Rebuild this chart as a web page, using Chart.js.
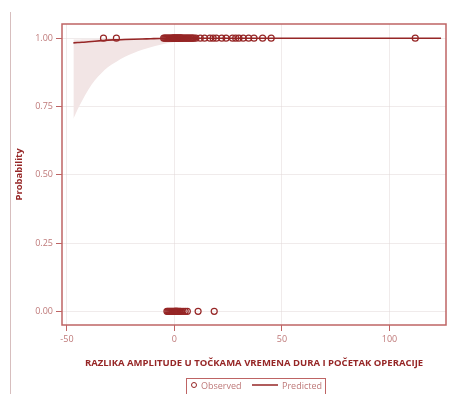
<!DOCTYPE html>
<html>
<head>
<meta charset="utf-8">
<script src="https://cdn.jsdelivr.net/npm/chart.js@4.4.1/dist/chart.umd.min.js"></script>
<style>
  html, body { margin: 0; padding: 0; background: #fff; }
  #wrap { width: 454px; height: 394px; position: relative; }
</style>
</head>
<body>
<div id="wrap"><canvas id="myChart" width="454" height="394"></canvas></div>
<script>
// podaci
const xTicks = [-50, 0, 50, 100];
const yTicks = [0, 0.25, 0.5, 0.75, 1];

const obsJedan = [-33, -27,
  -5, -4.5, -4, -3.5, -3, -2.5, -2, -1.5, -1, -0.75, -0.5, -0.25, 0, 0.25, 0.5, 0.75, 1, 1.25, 1.5, 1.75, 2, 2.25, 2.5, 2.75,
  3, 3.25, 3.5, 4, 4.5, 5, 5.5, 6, 6.5, 7, 7.5, 8, 8.5, 9, 10,
  12, 14, 16.5, 18, 19.5, 22, 24, 27, 28.5, 30, 32, 34.5, 37, 41, 45, 112];
const obsNula = [-3.5, -3, -2.5, -2, -1.5, -1, -0.5, 0, 0.25, 0.5, 0.75, 1, 1.25, 1.5, 2, 2.5, 3, 4, 5, 6, 11, 18.5];

const predX = [-47, -45, -43, -40, -37, -34, -31, -27, -23, -19, -15, -11, -7, -3, 0, 5, 10, 20, 40, 80, 124];
const predY = [0.983, 0.984, 0.985, 0.987, 0.989, 0.991, 0.993, 0.994, 0.995, 0.996, 0.997, 0.998, 0.999, 0.9995, 1, 1, 1, 1, 1, 1, 1];
const donjaGr = [0.705, 0.74, 0.77, 0.812, 0.846, 0.872, 0.894, 0.914, 0.932, 0.946, 0.958, 0.967, 0.975, 0.982, 0.986, 0.992, 0.996, 0.999, 1, 1, 1];
const gornjaGr = [0.995, 0.995, 0.996, 0.996, 0.997, 0.998, 0.999, 0.999, 1, 1, 1, 1, 1, 1, 1, 1, 1, 1, 1, 1, 1];

const tamna = 'rgb(150, 38, 38)';
const okvir = 'rgb(190, 100, 100)';
const svijetla = 'rgb(190, 120, 120)';

const okvirPlugin = {
  id: 'okvir',
  afterDraw(chart) {
    const c = chart.ctx, a = chart.chartArea;
    c.save();
    c.strokeStyle = okvir;
    c.lineWidth = 1.5;
    c.strokeRect(a.left, a.top, a.right - a.left, a.bottom - a.top);
    // lijeva linija stranice
    c.strokeStyle = 'rgb(215, 190, 190)';
    c.lineWidth = 1;
    c.beginPath();
    c.moveTo(10.5, 12);
    c.lineTo(10.5, 394);
    c.stroke();
    // legenda
    const lx = 186, ly = 378, lw = 139, lh = 20;
    c.strokeStyle = okvir;
    c.lineWidth = 1;
    c.strokeRect(lx + 0.5, ly + 0.5, lw, lh);
    c.font = '9px "Open Sans", sans-serif';
    c.textBaseline = 'middle';
    c.fillStyle = svijetla;
    c.strokeStyle = tamna;
    c.beginPath();
    c.arc(lx + 8, ly + 7, 2.5, 0, Math.PI * 2);
    c.stroke();
    c.fillText('Observed', lx + 15, ly + 8);
    c.strokeStyle = tamna;
    c.lineWidth = 1.5;
    c.beginPath();
    c.moveTo(lx + 66, ly + 7);
    c.lineTo(lx + 92, ly + 7);
    c.stroke();
    c.fillText('Predicted', lx + 96, ly + 8);
    c.restore();
  }
};

const ctx = document.getElementById('myChart').getContext('2d');
const myChart = new Chart(ctx, {
  type: 'scatter',
  data: {
    datasets: [
      {
        label: 'Observed',
        data: obsJedan.map(x => ({ x: x, y: 1 })).concat(obsNula.map(x => ({ x: x, y: 0 }))),
        pointStyle: 'circle',
        pointRadius: 3,
        pointBorderColor: tamna,
        pointBackgroundColor: 'rgba(255,255,255,0)',
        pointBorderWidth: 1.2,
        order: 0
      },
      {
        label: 'Predicted',
        type: 'line',
        data: predX.map((x, i) => ({ x: x, y: predY[i] })),
        borderColor: tamna,
        borderWidth: 1.6,
        pointRadius: 0,
        cubicInterpolationMode: 'monotone',
        fill: false,
        order: 1
      },
      {
        label: 'gornja',
        type: 'line',
        data: predX.map((x, i) => ({ x: x, y: gornjaGr[i] })),
        borderWidth: 0,
        borderColor: 'rgba(0,0,0,0)',
        pointRadius: 0,
        cubicInterpolationMode: 'monotone',
        fill: '+1',
        backgroundColor: 'rgb(242, 229, 229)',
        order: 2
      },
      {
        label: 'donja',
        type: 'line',
        data: predX.map((x, i) => ({ x: x, y: donjaGr[i] })),
        borderWidth: 0,
        borderColor: 'rgba(0,0,0,0)',
        pointRadius: 0,
        cubicInterpolationMode: 'monotone',
        fill: false,
        order: 3
      }
    ]
  },
  options: {
    responsive: false,
    maintainAspectRatio: false,
    animation: false,
    layout: { padding: { left: 12, top: 24, right: 8, bottom: 24 } },
    plugins: {
      legend: { display: false },
      tooltip: { enabled: false },
      title: { display: false }
    },
    scales: {
      x: {
        type: 'linear',
        min: -52.3,
        max: 126.3,
        afterBuildTicks: s => { s.ticks = xTicks.map(v => ({ value: v })); },
        afterFit: s => { s.height = 45; },
        border: { display: false },
        grid: { color: 'rgba(225, 215, 215, 0.5)', tickColor: okvir, tickLength: 6, lineWidth: 1 },
        ticks: { color: svijetla, font: { size: 9, family: '"Open Sans", sans-serif' }, padding: 3, maxRotation: 0 },
        title: {
          display: true,
          text: 'RAZLIKA AMPLITUDE U TOČKAMA VREMENA DURA I POČETAK OPERACIJE',
          color: tamna,
          font: { size: 9.5, weight: 'bold', family: '"Open Sans", sans-serif' },
          padding: { top: 0, bottom: 1 }
        }
      },
      y: {
        min: -0.05,
        max: 1.052,
        afterBuildTicks: s => { s.ticks = yTicks.map(v => ({ value: v })); },
        afterFit: s => { s.width = 50; },
        border: { display: false },
        grid: { color: 'rgba(225, 215, 215, 0.5)', tickColor: okvir, tickLength: 6, lineWidth: 1 },
        ticks: {
          color: svijetla,
          font: { size: 9, family: '"Open Sans", sans-serif' },
          padding: 3,
          callback: v => v.toFixed(2)
        },
        title: {
          display: true,
          text: 'Probability',
          color: tamna,
          font: { size: 9.5, weight: 'bold', family: '"Open Sans", sans-serif' },
          padding: { top: 2, bottom: 0 }
        }
      }
    }
  },
  plugins: [okvirPlugin]
});
</script>
</body>
</html>
